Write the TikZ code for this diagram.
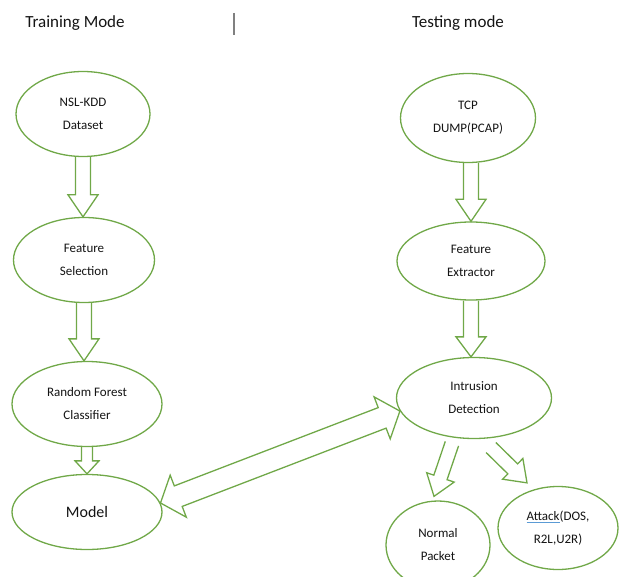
\documentclass[tikz,border=0pt]{standalone}
\usepackage{fontspec}
\setmainfont{Carlito}
\usetikzlibrary{shapes.geometric,calc}
\definecolor{verde}{RGB}{112,168,72}
\definecolor{texto}{RGB}{20,20,20}
\definecolor{azul}{RGB}{91,155,213}

% flecha de bloque: de #1 a #2, medio ancho #3, medio ancho punta #4, largo punta #5
\newcommand{\bloque}[5]{%
  \coordinate (pb) at ($(#2)!#5!(#1)$);
  \draw[flecha] ($(#1)!#3!90:(#2)$) -- ($(pb)!#3!90:(#2)$) -- ($(pb)!#4!90:(#2)$) -- (#2)
    -- ($(pb)!#4!-90:(#2)$) -- ($(pb)!#3!-90:(#2)$) -- ($(#1)!#3!-90:(#2)$);
}
% flecha de bloque con dos puntas
\newcommand{\doble}[5]{%
  \coordinate (pa) at ($(#1)!#5!(#2)$);
  \coordinate (pb) at ($(#2)!#5!(#1)$);
  \draw[flecha] (#1) -- ($(pa)!#4!90:(#2)$) -- ($(pa)!#3!90:(#2)$) -- ($(pb)!#3!90:(#2)$)
    -- ($(pb)!#4!90:(#2)$) -- (#2) -- ($(pb)!#4!-90:(#2)$) -- ($(pb)!#3!-90:(#2)$)
    -- ($(pa)!#3!-90:(#2)$) -- ($(pa)!#4!-90:(#2)$) -- cycle;
}

\begin{document}
\begin{tikzpicture}[x=1pt,y=-1pt]
\tikzstyle{elipse}=[ellipse,draw=verde,line width=1.3pt,fill=white,text=texto,inner sep=0pt,align=center,font=\fontsize{13}{23}\selectfont]
\tikzstyle{flecha}=[draw=verde,line width=1.3pt,line join=miter]
\tikzstyle{titulo}=[text=texto,font=\fontsize{17}{20}\selectfont]

\clip (0,0) rectangle (623,577);

% Títulos
\node[titulo] (train) at (75,23) {Training Mode};
\node[titulo] (test) at (458,23) {Testing mode};
\draw[gray,line width=1.2pt] (234,13) -- (234,35);

% Modo de entrenamiento
\node[elipse,minimum width=134pt,minimum height=85pt] (nsl) at (83,114) {NSL-KDD\\Dataset};
\node[elipse,minimum width=141pt,minimum height=85pt] (fsel) at (84,260) {Feature\\Selection};
\node[elipse,minimum width=150pt,minimum height=85pt] (rf) at (87,404) {Random Forest\\Classifier};
\node[elipse,minimum width=150pt,minimum height=75pt,font=\fontsize{16}{19}\selectfont] (model) at (87,512) {Model};

% Modo de prueba
\node[elipse,minimum width=135pt,minimum height=89pt] (tcp) at (468,118) {TCP\\DUMP(PCAP)};
\node[elipse,minimum width=148pt,minimum height=78pt] (fext) at (471,261) {Feature\\Extractor};
\node[elipse,minimum width=155pt,minimum height=81pt] (ids) at (474,398) {Intrusion\\Detection};
\node[elipse,minimum width=104pt,minimum height=88pt] (normal) at (438,545) {Normal\\Packet};
\node[elipse,minimum width=120pt,minimum height=83pt] (attack) at (558,528)
  {\textcolor{azul}{\underline{\textcolor{texto}{Attack}}}(DOS,\\R2L,U2R)};

% Puntos de las flechas
\coordinate (f1) at (nsl.south |- fsel.north);
\coordinate (f2) at (fsel.south |- rf.north);
\coordinate (f3) at (rf.south |- model.north);
\coordinate (f4) at (tcp.south -| fext.north);
\coordinate (f5) at (fext.south |- ids.north);
\coordinate (n1) at ($(ids.242)+(-1,6)$);
\coordinate (n2) at ($(normal.north)+(-4,-4)$);
\coordinate (a1) at ($(ids.289)+(3,9)$);
\coordinate (a2) at ($(attack.north)+(-31,-3)$);

% Flechas
\bloque{nsl.south}{f1}{7.5pt}{15pt}{22pt}
\bloque{fsel.south}{f2}{7.5pt}{15pt}{22pt}
\bloque{rf.south}{f3}{5.5pt}{12pt}{13pt}
\bloque{f4}{fext.north}{7.5pt}{15pt}{22pt}
\bloque{fext.south}{f5}{7.5pt}{15pt}{20pt}
\bloque{n1}{n2}{7pt}{14.5pt}{20pt}
\bloque{a1}{a2}{7pt}{14.5pt}{20pt}
\doble{model.7}{ids.190}{11pt}{22.5pt}{19pt}
\end{tikzpicture}
\end{document}
